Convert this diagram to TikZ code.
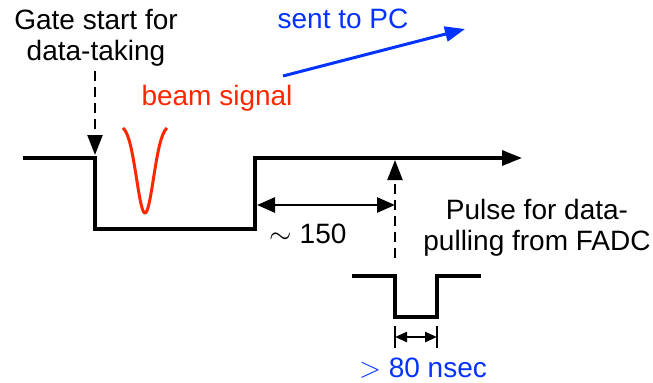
\documentclass[tikz,border=0pt]{standalone}
\usepackage{fontspec}
\setmainfont{Liberation Sans}
\usetikzlibrary{arrows.meta,positioning,calc}
\definecolor{BeamRed}{HTML}{FF2600}
\definecolor{PcBlue}{HTML}{0433FF}

\begin{document}
\begin{tikzpicture}[
    x=0.5pt, y=-0.5pt,
    font=\fontsize{14pt}{15.5pt}\selectfont,
    sig/.style={line width=1.6pt, line join=miter},
    guide/.style={line width=1.1pt, dash pattern=on 5pt off 3pt},
    lbl/.style={inner sep=0pt, align=center},
    bigtip/.style={-{Triangle[length=10pt, width=7.5pt]}}
]
  \useasboundingbox (0,0) rectangle (653,382);

  % ---------------------------------------------------------------
  % Gate de aquisicao (forma de onda principal)
  % ---------------------------------------------------------------
  \coordinate (w0) at (23,158);
  \coordinate (w1) at (95,158);
  \coordinate (w2) at (95,229);
  \coordinate (w3) at (255,229);
  \coordinate (w4) at (255,158);
  \coordinate (wend) at (522,158);
  \draw[sig, bigtip] (w0) -- (w1) -- (w2) -- (w3) -- (w4) -- (wend);

  \node[lbl] (gate) at (96,38) {Gate start for\\data-taking};
  \coordinate (gatetip) at (95,155);
  \draw[guide, bigtip] (gate.south -| gatetip) ++(0,4) -- (gatetip);

  % Sinal do feixe
  \draw[sig, color=BeamRed, line width=1.5pt]
    plot[domain=-22:22, samples=60, smooth] ({145+\x}, {213-85*(1-exp(-(\x/12)^2))/(1-exp(-3.36))});
  \node[lbl, text=BeamRed, anchor=base] (beam) at (217,105) {beam signal};

  % Envio ao PC
  \node[lbl, text=PcBlue, anchor=base] (pc) at (343,28) {sent to PC};
  \coordinate (pcfrom) at (283,76);
  \coordinate (pcto) at (465,29);
  \draw[line width=1.5pt, color=PcBlue, bigtip] (pcfrom) -- (pcto);

  % ---------------------------------------------------------------
  % Pulso de leitura do FADC
  % ---------------------------------------------------------------
  \coordinate (pfoot) at (395,258);
  \coordinate (ptip) at (395,160);
  \draw[guide, bigtip] (pfoot) -- (ptip);

  \coordinate (dl) at (257,205);
  \coordinate (dr) at (395,205);
  \draw[line width=1.3pt, {Triangle[length=9pt, width=7.5pt]}-{Triangle[length=9pt, width=7.5pt]}] (dl) -- (dr);
  \node[lbl, anchor=base] (delay) at (308,243) {$\sim$ 150};

  \node[lbl] (pull) at (537,228) {Pulse for data-\\pulling from FADC};

  \coordinate (p0) at (352,276);
  \coordinate (p1) at (395,276);
  \coordinate (p2) at (395,317);
  \coordinate (p3) at (437,317);
  \coordinate (p4) at (437,276);
  \coordinate (p5) at (481,276);
  \draw[sig] (p0) -- (p1) -- (p2) -- (p3) -- (p4) -- (p5);

  % largura minima
  \coordinate (wl) at (395,337);
  \coordinate (wr) at (437,337);
  \draw[line width=1.1pt] ($(wl)+(0,-11)$) -- ($(wl)+(0,11)$);
  \draw[line width=1.1pt] ($(wr)+(0,-11)$) -- ($(wr)+(0,11)$);
  \draw[line width=1.1pt, {Triangle[length=6pt, width=5pt]}-{Triangle[length=6pt, width=5pt]}] (wl) -- (wr);
  \node[lbl, text=PcBlue, anchor=base] (width) at (423,377) {$>$ 80 nsec};

\end{tikzpicture}
\end{document}
